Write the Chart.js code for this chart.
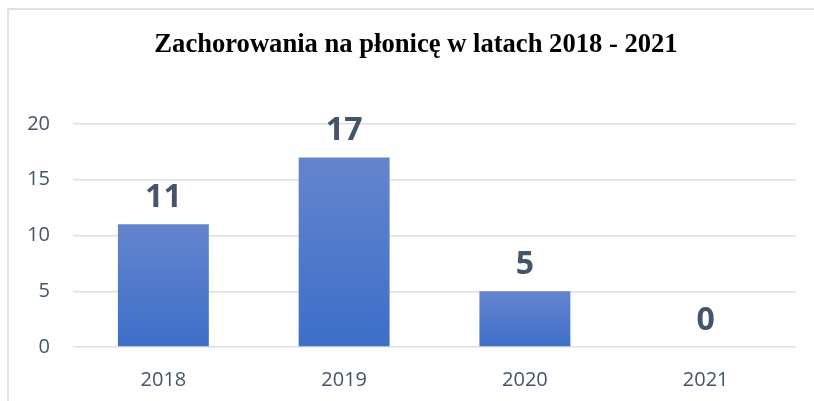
<!DOCTYPE html>
<html lang="pl">
<head>
  <meta charset="UTF-8" />
  <title>Zachorowania na płonicę</title>
  <script src="https://cdn.jsdelivr.net/npm/chart.js"></script>
  <style>
    body {
      margin: 0;
      background: #ffffff;
      width: 814px;
      height: 401px;
      overflow: hidden;
    }

    .frame {
      position: absolute;
      left: 7px;
      top: 8px;
      width: 807px;
      height: 393px;
      border-top: 2px solid #dde2ea;
      border-left: 2px solid #dde2ea;
    }

    .wrap {
      position: absolute;
      left: 0;
      top: 0;
      width: 814px;
      height: 401px;
    }
  </style>
</head>
<body>
  <div class="frame"></div>
  <div class="wrap">
    <canvas id="chart" width="814" height="401"></canvas>
  </div>

  <script>
    const chartTitle = 'Zachorowania na płonicę w latach 2018 - 2021';
    const years = ['2018', '2019', '2020', '2021'];
    const cases = [11, 17, 5, 0];
    const yTicks = [0, 5, 10, 15, 20];

    const labelColor = '#44546a';

    // gradient per bar, lighter at the top, darker at the base
    function barGradient(context) {
      const chart = context.chart;
      const y = chart.scales.y;
      if (!y || context.dataIndex === undefined) return '#4472c4';
      const value = cases[context.dataIndex];
      const top = y.getPixelForValue(value);
      const base = y.getPixelForValue(0);
      if (!isFinite(top) || !isFinite(base) || top === base) return '#4472c4';
      const g = chart.ctx.createLinearGradient(0, top, 0, base);
      g.addColorStop(0, '#6485cd');
      g.addColorStop(1, '#3d6eca');
      return g;
    }

    // title sits a bit right of the plot centre, as in the original
    const titleText = {
      id: 'titleText',
      afterDraw(chart) {
        const ctx = chart.ctx;
        ctx.save();
        ctx.font = 'bold 26.6px "Liberation Serif", serif';
        ctx.fillStyle = '#000000';
        ctx.textAlign = 'center';
        ctx.textBaseline = 'middle';
        ctx.fillText(chartTitle, 416, 45);
        ctx.restore();
      }
    };

    const valueLabels = {
      id: 'valueLabels',
      afterDatasetsDraw(chart) {
        const ctx = chart.ctx;
        const meta = chart.getDatasetMeta(0);
        ctx.save();
        ctx.font = 'bold 32px "Open Sans", sans-serif';
        ctx.fillStyle = labelColor;
        ctx.textAlign = 'center';
        ctx.textBaseline = 'alphabetic';
        meta.data.forEach((bar, i) => {
          ctx.fillText(String(cases[i]), bar.x, bar.y - 17);
        });
        ctx.restore();
      }
    };

    new Chart(document.getElementById('chart').getContext('2d'), {
      type: 'bar',
      data: {
        labels: years,
        datasets: [{
          data: cases,
          backgroundColor: barGradient,
          borderWidth: 0,
          barPercentage: 0.503,
          categoryPercentage: 1
        }]
      },
      options: {
        responsive: false,
        animation: false,
        layout: { padding: { left: 0, right: 18, top: 124, bottom: 0 } },
        plugins: {
          legend: { display: false },
          tooltip: { enabled: false },
          title: { display: false }
        },
        scales: {
          x: {
            afterFit(scale) { scale.height = 54; },
            grid: { display: false, drawTicks: false },
            border: { display: false },
            ticks: {
              color: labelColor,
              padding: 21,
              font: { family: '"Open Sans", sans-serif', size: 20 }
            }
          },
          y: {
            min: 0,
            max: 20,
            afterFit(scale) { scale.width = 73; },
            afterBuildTicks(scale) { scale.ticks = yTicks.map(v => ({ value: v })); },
            grid: { color: '#dcdfe4', lineWidth: 1.5, drawTicks: false },
            border: { display: false },
            ticks: {
              color: labelColor,
              padding: 23,
              font: { family: '"Open Sans", sans-serif', size: 20 }
            }
          }
        }
      },
      plugins: [valueLabels, titleText]
    });
  </script>
</body>
</html>
